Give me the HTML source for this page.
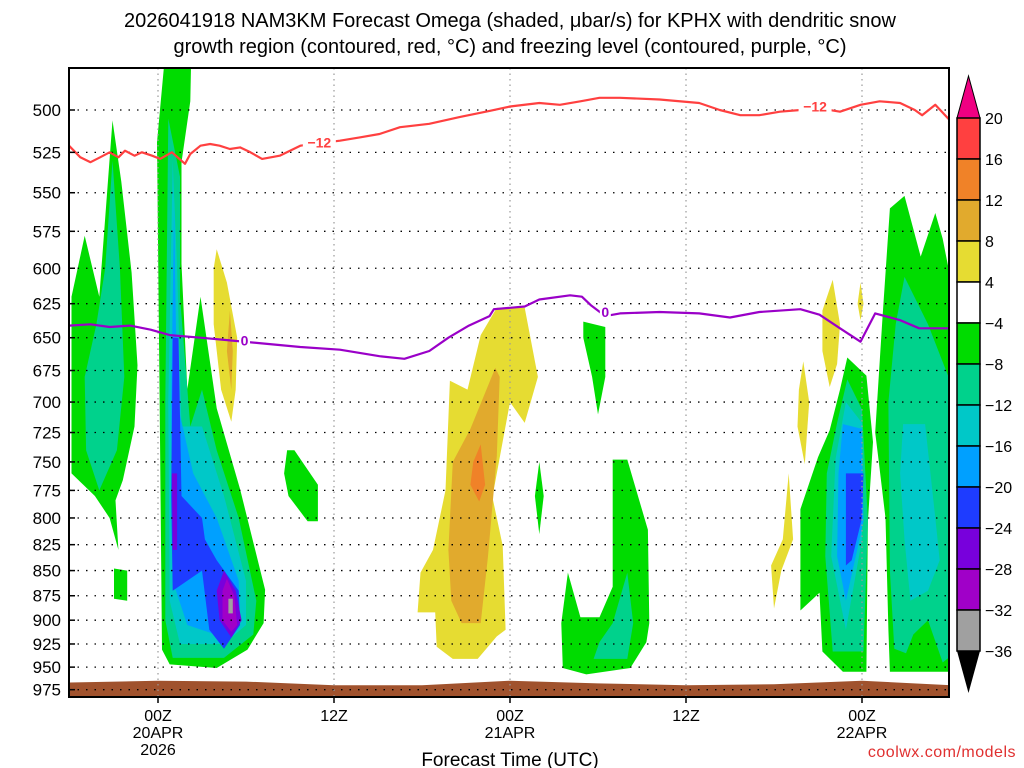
<!DOCTYPE html>
<html><head><meta charset="utf-8"><style>
html,body{margin:0;padding:0;background:#fff;}
svg{display:block;font-family:"Liberation Sans",sans-serif;}
</style></head><body>
<svg id="chart" width="1024" height="768" viewBox="0 0 1024 768" xmlns="http://www.w3.org/2000/svg">
<text x="510" y="27" text-anchor="middle" font-size="20">2026041918 NAM3KM Forecast Omega (shaded, μbar/s) for KPHX with dendritic snow</text>
<text x="510" y="53" text-anchor="middle" font-size="20">growth region (contoured, red, °C) and freezing level (contoured, purple, °C)</text>
<g id="shades"></g>
<g id="terrain"></g>
<g id="grid"></g>
<g id="lines"></g>
<rect x="69" y="68" width="880" height="629" fill="none" stroke="#000" stroke-width="2"/>
<g id="yaxis"></g>
<g id="xaxis"></g>
<text x="510" y="766" text-anchor="middle" font-size="19">Forecast Time (UTC)</text>
<text x="1016" y="757" text-anchor="end" font-size="16" fill="#e03030" letter-spacing="0.5">coolwx.com/models</text>
<g id="cbar"></g>
</svg>
<script>
const NS="http://www.w3.org/2000/svg";
const pTicks=[500,525,550,575,600,625,650,675,700,725,750,775,800,825,850,875,900,925,950,975];
const tTicks=[0,12,24,36,48];
const tLabels=[["00Z","20APR","2026"],["12Z"],["00Z","21APR"],["12Z"],["00Z","22APR"]];
const cbLabels=["20","16","12","8","4","−4","−8","−12","−16","−20","−24","−28","−32","−36"];
const cbColors=["#ff4040","#f08228","#e1aa2d","#e6dc32","#ffffff","#00dc00","#00d28c","#00c8c8","#00a0ff","#1e3cff","#7800dc","#a000c8","#a0a0a0"];
const COL={g:"#00dc00",t:"#00d28c",c:"#00c8c8",lb:"#00a0ff",b:"#1e3cff",pu:"#7800dc",m:"#a000c8",gr:"#a0a0a0",y:"#e6dc32",go:"#e1aa2d",o:"#f08228"};
const shadeKeys=["g","t","g","g","t","c","lb","b","pu","pu","m","gr","y","go","g","y","go","o","g","g","g","t","y","y","y","y","g","t","c","lb","b","g","t","c"];
const shadePts=[
[[-5.9,760],[-5.9,620],[-5.0,578],[-4.0,620],[-3.1,506],[-2.5,543],[-1.8,603],[-1.4,671],[-1.6,720],[-2.4,766],[-2.9,784],[-2.7,830],[-3.3,800],[-4.3,780]],
[[-3.1,530],[-2.6,600],[-2.3,680],[-2.8,740],[-4.0,775],[-4.9,740],[-5.0,680],[-4.2,640],[-3.6,600]],
[[-3.0,848],[-2.1,850],[-2.1,880],[-3.0,878]],
[[0.4,476],[2.25,476],[2.2,495],[1.6,531],[1.6,597],[2.0,690],[2.9,620],[4.0,705],[5.6,774],[7.3,869],[7.2,903],[6.1,931],[4.0,951],[0.8,947],[0.27,931],[0.14,738],[-0.07,519]],
[[0.7,505],[1.5,540],[1.5,620],[2.2,720],[3.0,690],[4.0,740],[5.5,800],[6.7,880],[6.5,915],[4.5,940],[1.0,940],[0.5,900],[0.5,700]],
[[1.0,530],[1.3,600],[1.6,720],[3.0,720],[4.5,780],[6.0,860],[6.0,905],[4.5,925],[1.5,925],[0.8,880],[0.7,700]],
[[1.1,560],[1.3,700],[2.4,760],[4.0,800],[5.5,860],[5.6,900],[4.5,918],[2.0,905],[1.0,860],[0.9,700]],
[[1.0,650],[1.4,650],[1.6,780],[3.0,800],[3.2,820],[4.0,840],[5.5,870],[5.6,905],[4.5,930],[3.5,910],[3.0,850],[1.0,870],[0.9,780]],
[[0.95,760],[1.3,760],[1.3,830],[1.0,830]],
[[4.5,850],[5.3,870],[5.7,900],[5.0,918],[4.2,900],[4.0,870]],
[[4.7,858],[5.2,875],[5.4,905],[5.0,912],[4.4,900],[4.4,870]],
[[4.8,878],[5.1,878],[5.1,893],[4.8,893]],
[[4.0,587],[4.7,610],[5.4,650],[5.3,690],[5.0,716],[4.3,690],[3.8,640],[3.8,600]],
[[4.9,630],[5.1,660],[5.0,690],[4.7,660]],
[[8.8,740],[9.3,740],[10.9,770],[10.9,803],[10.2,803],[8.9,780],[8.6,760]],
[[23.1,628],[25.0,628],[25.9,680],[25.0,717],[24.0,700],[22.8,781],[23.5,826],[23.7,910],[23.1,917],[21.8,941],[20.1,941],[19.0,928],[18.9,892],[17.7,892],[17.9,852],[18.75,830],[19.6,775],[19.9,683],[21.1,690],[22.0,648]],
[[23.0,673],[23.3,680],[23.1,745],[22.5,836],[22.0,903],[20.7,903],[20.0,880],[19.8,830],[20.1,750],[21.3,722]],
[[22.0,735],[22.3,770],[21.9,785],[21.3,770],[21.5,750]],
[[26.0,750],[26.3,780],[26.0,815],[25.7,780]],
[[29.0,638],[30.5,642],[30.5,680],[30.0,710],[29.6,680],[29.0,650]],
[[31.0,748],[32.0,748],[33.4,811],[33.5,903],[33.3,923],[32.2,951],[29.2,958],[27.6,951],[27.5,903],[27.95,852],[28.8,897],[30.1,897],[31.0,866],[31.0,805]],
[[32.0,852],[32.4,903],[32.0,941],[29.7,941],[30.1,923],[31.0,903]],
[[46.0,608],[46.5,640],[46.3,670],[45.8,688],[45.3,660],[45.3,630]],
[[47.9,610],[48.1,625],[47.9,637],[47.7,625]],
[[44.0,668],[44.4,700],[44.1,752],[43.6,720],[43.7,690]],
[[43.0,760],[43.3,820],[42.5,850],[42.0,888],[41.8,845],[42.6,820]],
[[47.0,665],[48.3,679],[48.75,733],[48.4,803],[48.3,955],[46.7,955],[45.3,933],[45.1,872],[43.8,890],[43.8,792],[45.0,746],[45.8,723],[46.5,690]],
[[47.0,682],[48.0,706],[48.4,803],[48.1,933],[46.0,933],[45.5,836],[45.6,760],[46.3,717]],
[[46.9,700],[48.0,717],[48.0,820],[46.9,910],[45.9,836],[46.2,747]],
[[46.7,718],[48.0,722],[48.1,803],[46.9,880],[46.3,836],[46.4,760]],
[[46.9,760],[48.1,760],[48.0,800],[47.3,840],[46.9,845]],
[[50.9,552],[52.0,592],[53.0,563],[53.5,580],[53.9,600],[53.9,955],[49.9,955],[49.8,910],[49.6,800],[49.1,745],[48.9,725],[49.4,635],[49.9,560]],
[[50.9,606],[52.5,640],[53.9,680],[53.9,940],[53.5,945],[52.5,900],[51.5,915],[51.0,935],[50.2,930],[49.9,850],[49.8,700],[50.3,640]],
[[50.8,718],[52.3,718],[53.0,800],[53.3,840],[52.5,870],[51.3,880],[50.9,820],[50.6,760]]
];
const sfcHours=[-6,0,6,12,18,24,30,36,42,48,54];
const sfcPres=[967,965,966,970,970,965,968,970,969,965,970];
const redHours=[-6.07,-5.3,-4.6,-3.95,-3.3,-2.7,-2.25,-1.6,-1.1,-0.4,0.14,0.95,1.84,2.2,2.9,3.55,4.2,4.9,5.6,6.3,7.1,8.3,9.7,12.4,13.8,15.1,16.5,18.5,20.6,22.6,24,26,27.4,28.8,30.1,31.5,34.2,36.9,38.3,39.7,41,42.4,43.8,45.1,46.5,47.9,49.2,50.6,51.6,52.1,53,54];
const redPres=[521,528,531,528,525,528,524,527,525,527,529,525,532,526,521,520,521,523,522,525,529,527,521,518,516,514,510,508,504,500.5,498,496,497,495,493,493,494,496,500,503,503,501,500,499,501,497,495,496,500,503,497,506];
const purHours=[-6.07,-4.6,-3.3,-1.9,-0.5,0.8,2.9,4.9,6.9,9.7,12.4,15.1,16.8,18.5,19.8,21.2,22.6,22.9,24,25,26,28.1,28.9,29.5,30.5,31.5,34.2,36.9,39,41,43.8,45.1,46.5,47.9,48.9,50.6,51.9,54];
const purPres=[641,640,642,641,644,648,650,652,654,657,659,664,666,660,650,641,634,629,628,627,622,619,620,626,634,632,631,632,635,631,629,633,643,653,632,637,643,643];
const redLabels=[[11.0,519],[44.8,498]];
const purLabels=[[5.9,652],[30.5,631]];

const X0=69,X1=949,Y0=68,Y1=697;
const xS=h=>158+h*(176/12);
const yS=p=>110+868*Math.log(p/500);
const svg=document.getElementById('chart');
function mk(tag,attrs,parent){const e=document.createElementNS(NS,tag);for(const k in attrs)e.setAttribute(k,attrs[k]);parent.appendChild(e);return e;}
const clip=mk('clipPath',{id:'pc'},svg);mk('rect',{x:X0,y:Y0,width:X1-X0,height:Y1-Y0},clip);
const sh=document.getElementById('shades');sh.setAttribute('clip-path','url(#pc)');
shadePts.forEach((pts,i)=>{
  const e=mk('polygon',{points:pts.map(q=>xS(q[0]).toFixed(1)+','+yS(q[1]).toFixed(1)).join(' '),fill:COL[shadeKeys[i]]},sh);
  
  
});
const tr=document.getElementById('terrain');tr.setAttribute('clip-path','url(#pc)');
let tp='M'+xS(sfcHours[0])+','+Y1;sfcHours.forEach((h,i)=>{tp+=' L'+xS(h).toFixed(1)+','+yS(sfcPres[i]).toFixed(1);});tp+=' L'+xS(sfcHours[sfcHours.length-1])+','+Y1+' Z';
const tEl=mk('path',{d:tp,fill:'#a0522d'},tr);


const gr=document.getElementById('grid');
pTicks.forEach(p=>{const e=mk('line',{x1:X0,x2:X1,y1:yS(p),y2:yS(p),stroke:'#000','stroke-width':1.3,'stroke-dasharray':'1.5 7'},gr);

});
tTicks.forEach(t=>{const e=mk('line',{x1:xS(t),x2:xS(t),y1:Y0,y2:Y1,stroke:'#999','stroke-width':1.2,'stroke-dasharray':'1.5 4'},gr);

});
const ln=document.getElementById('lines');ln.setAttribute('clip-path','url(#pc)');
function pl(hs,ps,col,name){const e=mk('polyline',{points:hs.map((h,i)=>xS(h).toFixed(1)+','+yS(ps[i]).toFixed(1)).join(' '),fill:'none',stroke:col,'stroke-width':2.2,'stroke-linejoin':'round'},ln);

}
pl(redHours,redPres,'#ff4040','dgz-minus12-line');
pl(purHours,purPres,'#9a00c8','freezing-level-line');
function lab(pos,txt,col,name){const x=xS(pos[0]),y=yS(pos[1]);
mk('rect',{x:x-(txt.length*5.5),y:y-7,width:txt.length*11,height:14,fill:'#fff'},ln);
const t=mk('text',{x:x,y:y+5,'text-anchor':'middle','font-size':14,'font-weight':'bold',fill:col},ln);t.textContent=txt;

}
redLabels.forEach(p=>lab(p,'−12','#ff4040','dgz-contour-label'));
purLabels.forEach(p=>lab(p,'0','#9a00c8','freezing-contour-label'));
const ya=document.getElementById('yaxis');
pTicks.forEach(p=>{const t=mk('text',{x:61,y:yS(p)+6,'text-anchor':'end','font-size':17},ya);t.textContent=p;


mk('line',{x1:X0,x2:X0+6,y1:yS(p),y2:yS(p),stroke:'#000','stroke-width':1.5},ya);});
const xa=document.getElementById('xaxis');
tTicks.forEach((t,i)=>{mk('line',{x1:xS(t),x2:xS(t),y1:Y1,y2:Y1+6,stroke:'#000','stroke-width':1.5},xa);
tLabels[i].forEach((s,j)=>{const e=mk('text',{x:xS(t),y:721+j*17,'text-anchor':'middle','font-size':16},xa);e.textContent=s;

});});
const cb=document.getElementById('cbar');
const cbx=957,cbw=23,cbt=118,cbh=41;
const tri1=mk('polygon',{points:`${cbx},${cbt} ${cbx+cbw},${cbt} ${cbx+cbw/2},${cbt-42}`,fill:'#f00082',stroke:'#000','stroke-width':1},cb);


cbColors.forEach((c,i)=>{const r=mk('rect',{x:cbx,y:cbt+i*cbh,width:cbw,height:cbh,fill:c,stroke:'#000','stroke-width':1.5},cb);

});
const yb=cbt+cbColors.length*cbh;
const tri2=mk('polygon',{points:`${cbx},${yb} ${cbx+cbw},${yb} ${cbx+cbw/2},${yb+42}`,fill:'#000'},cb);


cbLabels.forEach((s,i)=>{const t=mk('text',{x:985,y:cbt+i*cbh+6,'font-size':16},cb);t.textContent=s;

});
</script>
</body></html>
